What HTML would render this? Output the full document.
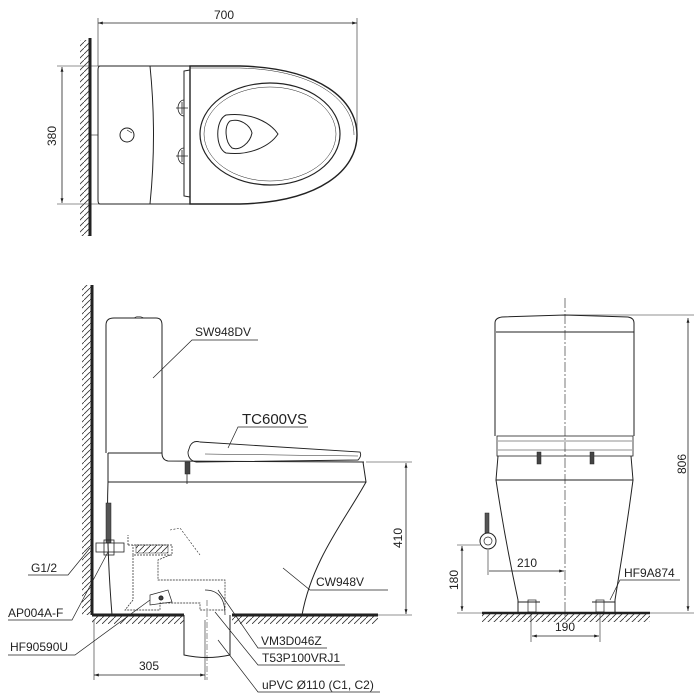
<!DOCTYPE html>
<html><head><meta charset="utf-8"><style>
html,body{margin:0;padding:0;background:#fff}
svg{display:block}
text{font-family:"Liberation Sans",sans-serif;font-size:12px;fill:#222}
</style></head><body>
<svg width="700" height="700" viewBox="0 0 700 700" xmlns="http://www.w3.org/2000/svg">
<defs>
<pattern id="hv" width="6" height="6" patternUnits="userSpaceOnUse"><path d="M-1,7 L7,-1" stroke="#333" stroke-width="0.8"/></pattern>
<marker id="a" viewBox="0 0 10 10" refX="10" refY="5" markerWidth="9" markerHeight="6" orient="auto-start-reverse"><path d="M0,2 L10,5 L0,8 Z" fill="#222"/></marker>
</defs>
<g fill="none" stroke="#222" stroke-width="1">
<!-- TOP VIEW -->
<rect x="80" y="40" width="9" height="196" fill="url(#hv)" stroke="none"/>
<line x1="90" y1="38" x2="90" y2="236" stroke-width="3"/>
<line x1="98" y1="23" x2="357" y2="23" marker-start="url(#a)" marker-end="url(#a)" stroke-width="0.8"/>
<line x1="98" y1="18" x2="98" y2="66" stroke-width="0.6"/>
<line x1="357" y1="18" x2="357" y2="135" stroke-width="0.6"/>
<line x1="62" y1="67" x2="62" y2="203" marker-start="url(#a)" marker-end="url(#a)" stroke-width="0.8"/>
<line x1="57" y1="66" x2="100" y2="66" stroke-width="0.6"/>
<line x1="57" y1="204" x2="100" y2="204" stroke-width="0.6"/>
<line x1="90" y1="135" x2="98" y2="135" stroke-width="0.6"/>
<path d="M100,66 L150,66 Q157,135 150,204 L100,204 Q98,204 98,200 L98,70 Q98,66 100,66 Z"/>
<circle cx="127" cy="135" r="7"/>
<line x1="127" y1="130" x2="132" y2="133" stroke-width="0.6"/>
<line x1="150" y1="66" x2="190" y2="66"/>
<line x1="150" y1="204" x2="190" y2="204"/>
<path d="M190,70 L184,71 L184,196 L190,197"/>
<path d="M184,100 A6,8 0 0 0 184,116 M176,108 L188,108 M182,102 L182,114" stroke-width="0.8"/>
<path d="M184,148 A6,8 0 0 0 184,164 M176,156 L188,156 M182,150 L182,162" stroke-width="0.8"/>
<path d="M190,66 L240,66 C320,68 357,100 357,135 C357,170 320,202 240,204 L190,204 Z" stroke-width="1.4"/>
<path d="M190,68 L240,68 C318,70 354,102 354,135" stroke-width="0.5"/>
<ellipse cx="270" cy="134" rx="70" ry="51" stroke-width="1.2"/>
<ellipse cx="270" cy="134" rx="66" ry="47" stroke-width="0.5"/>
<path d="M226,115 C250,112 270,122 278,134 C270,146 250,156 226,153 C215,148 215,120 226,115 Z"/>
<path d="M230,121 C240,118 250,125 252,133 C250,143 240,151 232,148 C225,142 224,126 230,121 Z"/>

<!-- SIDE VIEW -->
<rect x="82" y="285" width="9" height="330" fill="url(#hv)" stroke="none"/>
<rect x="92" y="616" width="92" height="8" fill="url(#hv)" stroke="none"/>
<rect x="232" y="616" width="146" height="8" fill="url(#hv)" stroke="none"/>
<line x1="92" y1="285" x2="92" y2="615" stroke-width="3"/>
<line x1="92" y1="615" x2="184" y2="615" stroke-width="3"/>
<line x1="232" y1="615" x2="378" y2="615" stroke-width="3"/>
<path d="M106,453 L106,325 Q106,318 114,318 L156,318 Q162,318 162,325 L162,453"/>
<path d="M134,318 Q138,315 144,318" stroke-width="0.6"/>
<line x1="108" y1="453" x2="162" y2="453"/>
<path d="M162,453 Q162,460 168,461 L364,462"/>
<path d="M108,453 L108,482 Q106,540 112,615"/>
<path d="M108,482 L366,482 L363,462 M366,482 C345,520 312,560 302,615"/>
<path d="M190,446 Q193,440 200,442 L360,452 Q362,456 358,460 L196,462 Q188,460 188,452 Z" stroke-width="0.9"/>
<line x1="205" y1="454" x2="358" y2="456" stroke-width="0.5"/>
<rect x="185" y="462" width="5" height="12" fill="#444" stroke-width="0.5"/>
<line x1="187" y1="474" x2="187" y2="484" stroke-width="0.8"/>
<!-- supply -->
<rect x="106" y="503" width="5" height="40" fill="#555" stroke-width="0.5"/>
<rect x="96" y="543" width="28" height="9" stroke-width="0.8"/>
<rect x="104" y="540" width="10" height="15" stroke-width="0.8"/>
<path d="M128,545 L128,535 M128,545 L172,545 L172,555 L133,555 L133,545" stroke-dasharray="2,1" stroke-width="0.7"/>
<rect x="136" y="545" width="32" height="8" fill="url(#hv)" stroke-width="0.5"/>
<path d="M170,530 L180,528 L200,555" stroke-dasharray="2,1.5" stroke-width="0.6"/>
<path d="M133,555 L133,600 L125,610 L160,610 L160,603 L200,603 L200,610 L225,610 L225,580 L185,580 L158,580 L158,560 L170,555" stroke-dasharray="2,1" stroke-width="0.7"/>
<path d="M150,595 L168,590 L172,602 L150,605 Z" stroke-width="0.7"/>
<circle cx="161" cy="598" r="2" fill="#444"/>
<path d="M205,590 Q225,590 225,615" stroke-width="0.7"/>
<path d="M184,615 L184,655 Q207,660 230,655 L230,615" />
<line x1="207" y1="600" x2="207" y2="680" stroke-width="0.5" stroke-dasharray="6,2,1,2"/>
<!-- dims -->
<line x1="406" y1="463" x2="406" y2="614" marker-start="url(#a)" marker-end="url(#a)" stroke-width="0.8"/>
<line x1="366" y1="462" x2="412" y2="462" stroke-width="0.6"/>
<line x1="378" y1="615" x2="412" y2="615" stroke-width="0.6"/>
<line x1="94" y1="675" x2="205" y2="675" marker-start="url(#a)" marker-end="url(#a)" stroke-width="0.8"/>
<line x1="94" y1="620" x2="94" y2="680" stroke-width="0.6"/>
<line x1="205" y1="620" x2="205" y2="680" stroke-width="0.6"/>
<!-- leaders -->
<g stroke-width="0.7">
<path d="M258,340 L192,340 L153,378"/>
<path d="M308,427 L238,427 L228,448"/>
<path d="M388,590 L310,590 L283,568"/>
<path d="M28,575 L68,575 L90,548"/>
<path d="M8,620 L72,620 L108,552"/>
<path d="M8,655 L75,655 L150,600"/>
<path d="M327,648 L258,648 L218,590"/>
<path d="M345,665 L258,665 L215,612"/>
<path d="M380,692 L258,692 L218,640"/>
</g>

<!-- FRONT VIEW -->
<line x1="565" y1="298" x2="565" y2="620" stroke-width="0.6" stroke-dasharray="10,2,2,2"/>
<path d="M495,436 L495,323 Q495,318 502,317 L565,315 L628,317 Q634,318 634,323 L634,436"/>
<line x1="496" y1="332" x2="634" y2="332"/>
<rect x="497" y="436" width="136" height="20" stroke-width="0.8"/>
<line x1="498" y1="441" x2="632" y2="441" stroke-width="0.5"/>
<line x1="498" y1="450" x2="632" y2="450" stroke-width="0.5"/>
<path d="M498,456 L496,480 L633,480 L631,456"/>
<path d="M496,480 Q505,540 518,600 L518,612 M633,480 Q625,540 615,600 L615,612"/>
<rect x="537" y="452" width="4" height="12" fill="#444" stroke-width="0.5"/>
<rect x="590" y="452" width="4" height="12" fill="#444" stroke-width="0.5"/>
<rect x="528" y="600" width="8" height="12" stroke-width="0.7"/>
<rect x="596" y="600" width="8" height="12" stroke-width="0.7"/>
<line x1="518" y1="602" x2="540" y2="602"/><line x1="592" y1="602" x2="615" y2="602"/>
<rect x="485" y="513" width="4" height="20" fill="#555" stroke-width="0.5"/>
<circle cx="488" cy="541" r="8"/><circle cx="488" cy="541" r="4" stroke-width="0.7"/>
<rect x="482" y="614" width="168" height="8" fill="url(#hv)" stroke="none"/>
<line x1="482" y1="613" x2="650" y2="613" stroke-width="2.5"/>
<line x1="688" y1="318" x2="688" y2="611" marker-start="url(#a)" marker-end="url(#a)" stroke-width="0.8"/>
<line x1="566" y1="315" x2="694" y2="315" stroke-width="0.6"/>
<line x1="650" y1="613" x2="694" y2="613" stroke-width="0.6"/>
<line x1="462" y1="546" x2="462" y2="611" marker-start="url(#a)" marker-end="url(#a)" stroke-width="0.8"/>
<line x1="457" y1="545" x2="480" y2="545" stroke-width="0.6"/>
<line x1="457" y1="613" x2="482" y2="613" stroke-width="0.6"/>
<line x1="489" y1="571" x2="564" y2="571" marker-end="url(#a)" stroke-width="0.8"/>
<line x1="488" y1="550" x2="488" y2="575" stroke-width="0.6"/>
<line x1="532" y1="636" x2="599" y2="636" marker-start="url(#a)" marker-end="url(#a)" stroke-width="0.8"/>
<line x1="531" y1="613" x2="531" y2="642" stroke-width="0.6"/>
<line x1="600" y1="613" x2="600" y2="642" stroke-width="0.6"/>
<path d="M680,580 L620,580 L610,600" stroke-width="0.7"/>
</g>
<text x="214" y="19">700</text>
<text transform="translate(56,146) rotate(-90)">380</text>
<text x="195" y="336">SW948DV</text>
<text x="242" y="424" style="font-size:15px">TC600VS</text>
<text x="316" y="586">CW948V</text>
<text x="31" y="572">G1/2</text>
<text x="8" y="617">AP004A-F</text>
<text x="10" y="651">HF90590U</text>
<text x="261" y="645">VM3D046Z</text>
<text x="262" y="662">T53P100VRJ1</text>
<text x="262" y="689">uPVC Ø110 (C1, C2)</text>
<text transform="translate(402,548) rotate(-90)">410</text>
<text x="139" y="670">305</text>
<text transform="translate(686,474) rotate(-90)">806</text>
<text transform="translate(458,590) rotate(-90)">180</text>
<text x="517" y="567">210</text>
<text x="555" y="631">190</text>
<text x="624" y="577">HF9A874</text>
</svg>
</body></html>
